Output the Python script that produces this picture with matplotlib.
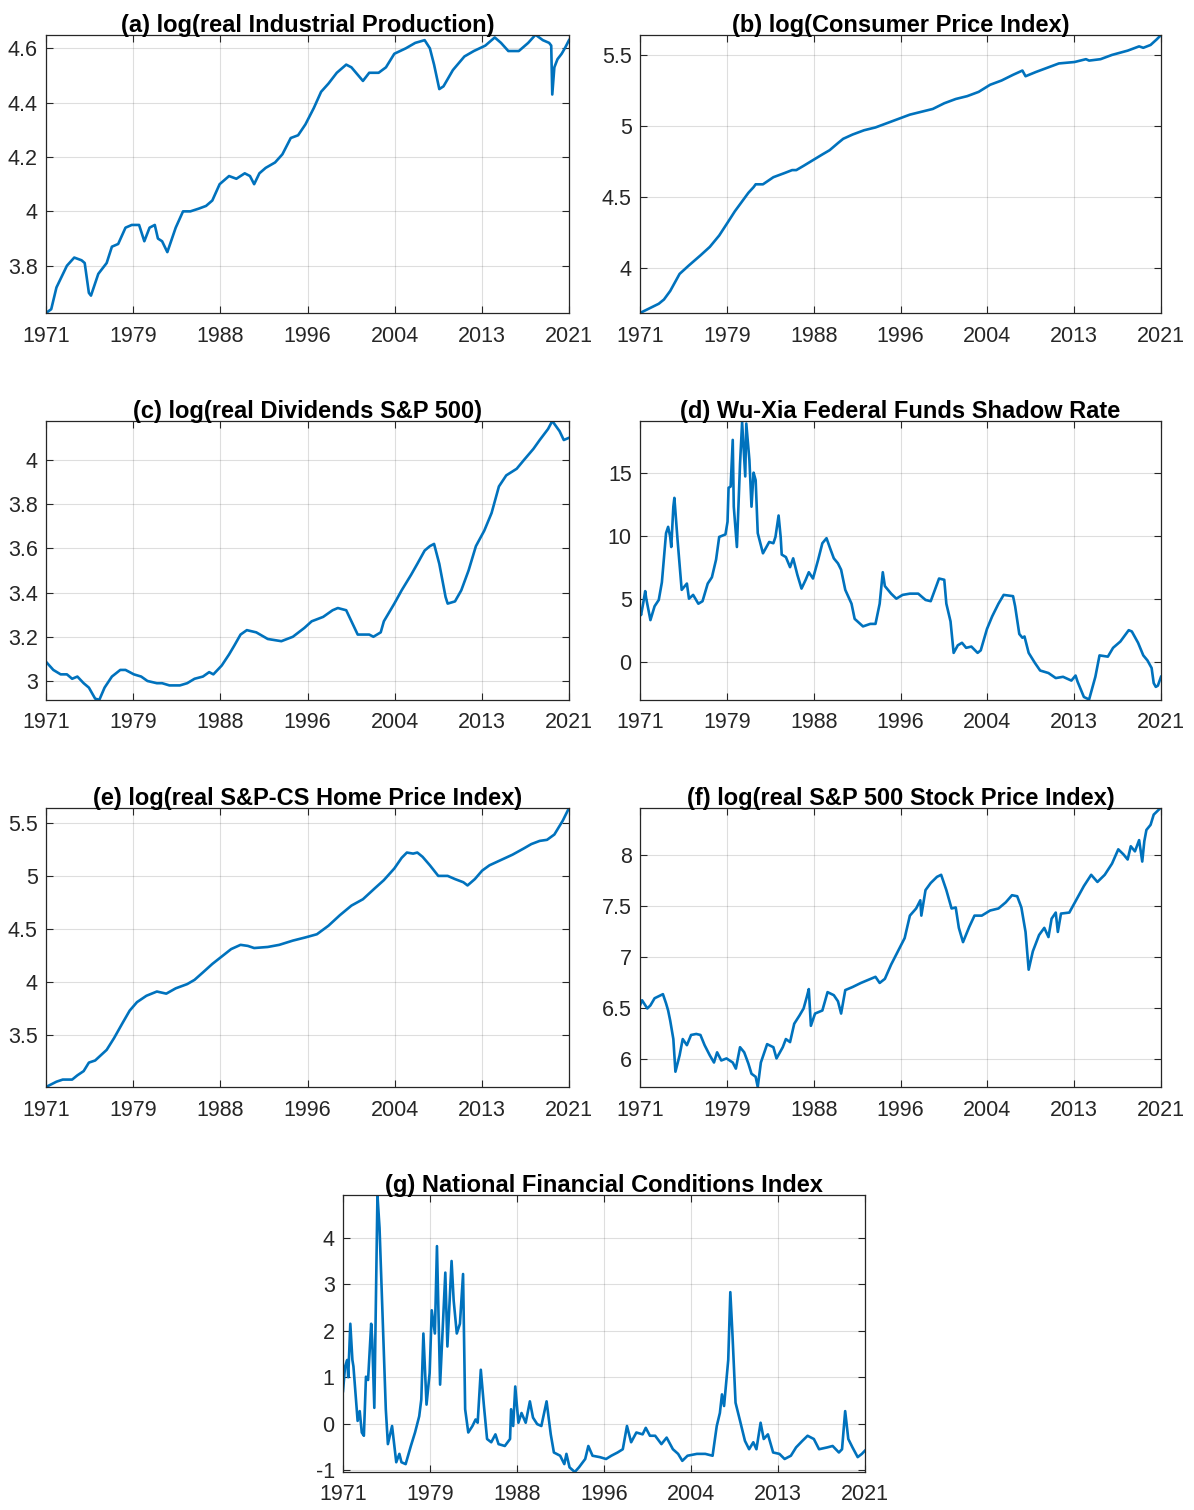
import numpy as np
import matplotlib
matplotlib.use("Agg")
import matplotlib.pyplot as plt
from matplotlib.ticker import FuncFormatter

plt.rcParams['font.family'] = ['Liberation Sans', 'DejaVu Sans']

# x axis: years as they sit on the MATLAB axis (ticks evenly spaced)
tick_labels = ['1971', '1979', '1988', '1996', '2004', '2013', '2021']

# (a) log(real Industrial Production)
ip_year = [1971.0, 1971.5, 1972.0, 1973.0, 1973.7, 1974.4, 1974.7, 1975.1, 1975.3, 1976.0,
           1976.8, 1977.3, 1977.9, 1978.6, 1979.2, 1979.9, 1980.4, 1980.9, 1981.4, 1981.7,
           1982.1, 1982.6, 1983.4, 1984.1, 1984.8, 1985.6, 1986.3, 1986.9, 1987.6, 1988.5,
           1989.2, 1990.0, 1990.5, 1990.9, 1991.4, 1992.0, 1992.9, 1993.6, 1994.4, 1995.1,
           1995.8, 1996.6, 1997.3, 1998.0, 1998.8, 1999.7, 2000.2, 2001.3, 2001.9, 2002.8,
           2003.5, 2004.3, 2005.4, 2006.3, 2007.2, 2007.7, 2008.1, 2008.6, 2009.0, 2009.9,
           2011.0, 2011.9, 2013.0, 2013.9, 2014.5, 2015.2, 2016.2, 2017.1, 2017.8, 2018.5,
           2019.1, 2019.3, 2019.4, 2019.6, 2019.9, 2020.3, 2020.6, 2021.0]
ip_val = [3.626, 3.64, 3.72, 3.80, 3.83, 3.82, 3.81, 3.70, 3.69, 3.77,
          3.81, 3.87, 3.88, 3.94, 3.95, 3.95, 3.89, 3.94, 3.95, 3.90,
          3.89, 3.85, 3.94, 4.00, 4.00, 4.01, 4.02, 4.04, 4.10, 4.13,
          4.12, 4.14, 4.13, 4.10, 4.14, 4.16, 4.18, 4.21, 4.27, 4.28,
          4.32, 4.38, 4.44, 4.47, 4.51, 4.54, 4.53, 4.48, 4.51, 4.51,
          4.53, 4.58, 4.60, 4.62, 4.63, 4.60, 4.54, 4.45, 4.46, 4.52,
          4.57, 4.59, 4.61, 4.64, 4.62, 4.59, 4.59, 4.62, 4.65, 4.63,
          4.62, 4.61, 4.43, 4.53, 4.56, 4.58, 4.60, 4.63]

# (b) log(Consumer Price Index)
cpi_year = [1971.0, 1972.8, 1973.3, 1973.9, 1974.8, 1975.7, 1976.8, 1977.7, 1978.6, 1979.4,
            1980.1, 1980.8, 1981.4, 1981.9, 1982.1, 1982.8, 1983.8, 1984.9, 1985.6, 1986.0,
            1986.7, 1987.6, 1988.5, 1989.2, 1990.0, 1990.5, 1991.4, 1992.5, 1993.6, 1994.7,
            1995.8, 1996.9, 1998.0, 1999.1, 2000.2, 2001.3, 2002.4, 2003.5, 2004.6, 2005.7,
            2006.8, 2007.7, 2008.0, 2009.0, 2010.1, 2011.2, 2012.7, 2013.8, 2014.1, 2015.2,
            2016.3, 2017.8, 2018.9, 2019.3, 2020.0, 2020.6, 2021.0]
cpi_val = [3.685, 3.75, 3.78, 3.84, 3.96, 4.02, 4.09, 4.15, 4.23, 4.32,
           4.40, 4.47, 4.53, 4.57, 4.59, 4.59, 4.64, 4.67, 4.69, 4.69,
           4.72, 4.76, 4.80, 4.83, 4.88, 4.91, 4.94, 4.97, 4.99, 5.02,
           5.05, 5.08, 5.10, 5.12, 5.16, 5.19, 5.21, 5.24, 5.29, 5.32,
           5.36, 5.39, 5.35, 5.38, 5.41, 5.44, 5.45, 5.47, 5.46, 5.47,
           5.50, 5.53, 5.56, 5.55, 5.57, 5.61, 5.64]

# (c) log(real Dividends S&P 500)
div_year = [1971.0, 1971.7, 1972.4, 1973.0, 1973.5, 1974.0, 1974.6, 1975.1, 1975.7, 1976.1,
            1976.6, 1977.3, 1978.1, 1978.6, 1979.4, 1980.1, 1980.7, 1981.6, 1982.1, 1982.8,
            1983.8, 1984.5, 1985.2, 1986.0, 1986.6, 1987.0, 1987.8, 1988.5, 1989.0, 1989.6,
            1990.2, 1991.1, 1992.2, 1993.5, 1994.6, 1995.7, 1996.4, 1997.5, 1998.4, 1998.9,
            1999.7, 2000.2, 2000.8, 2001.9, 2002.3, 2003.0, 2003.3, 2004.3, 2005.0, 2005.9,
            2006.5, 2007.2, 2007.7, 2008.1, 2008.6, 2009.2, 2009.4, 2010.1, 2010.7, 2011.4,
            2012.1, 2012.9, 2013.6, 2014.3, 2015.0, 2016.0, 2016.7, 2017.6, 2018.2, 2019.0,
            2019.4, 2020.1, 2020.5, 2021.0]
div_val = [3.087, 3.05, 3.03, 3.03, 3.01, 3.02, 2.99, 2.97, 2.92, 2.915,
           2.97, 3.02, 3.05, 3.05, 3.03, 3.02, 3.00, 2.99, 2.99, 2.98,
           2.98, 2.99, 3.01, 3.02, 3.04, 3.03, 3.07, 3.12, 3.16, 3.21,
           3.23, 3.22, 3.19, 3.18, 3.20, 3.24, 3.27, 3.29, 3.32, 3.33,
           3.32, 3.27, 3.21, 3.21, 3.20, 3.22, 3.27, 3.35, 3.41, 3.48,
           3.53, 3.59, 3.61, 3.62, 3.53, 3.38, 3.35, 3.36, 3.41, 3.50,
           3.61, 3.68, 3.76, 3.88, 3.93, 3.96, 4.00, 4.05, 4.09, 4.14,
           4.176, 4.13, 4.09, 4.10]

# (d) Wu-Xia Federal Funds Shadow Rate
ffr_year = [1971.0, 1971.1, 1971.3, 1971.5, 1971.6, 1972.0, 1972.4, 1972.8, 1973.1, 1973.5,
            1973.7, 1973.9, 1974.0, 1974.2, 1974.3, 1974.6, 1975.0, 1975.3, 1975.5, 1975.7,
            1976.1, 1976.6, 1977.0, 1977.5, 1977.9, 1978.3, 1978.6, 1979.2, 1979.4, 1979.5,
            1979.7, 1979.9, 1980.0, 1980.3, 1980.6, 1980.8, 1981.1, 1981.2, 1981.5, 1981.7,
            1981.9, 1982.1, 1982.3, 1982.8, 1983.4, 1983.8, 1984.0, 1984.3, 1984.5, 1984.6,
            1985.0, 1985.4, 1985.7, 1986.1, 1986.5, 1986.9, 1987.2, 1987.6, 1988.1, 1988.5,
            1988.9, 1989.2, 1989.6, 1990.0, 1990.3, 1990.7, 1991.3, 1991.6, 1992.4, 1993.1,
            1993.6, 1994.0, 1994.3, 1994.5, 1995.1, 1995.6, 1996.2, 1996.9, 1997.7, 1998.4,
            1998.9, 1999.3, 1999.7, 2000.2, 2000.4, 2000.8, 2001.1, 2001.5, 2001.9, 2002.3,
            2002.8, 2003.4, 2003.7, 2004.3, 2004.8, 2005.4, 2005.9, 2006.8, 2007.0, 2007.4,
            2007.7, 2007.9, 2008.3, 2008.9, 2009.4, 2010.2, 2010.9, 2011.6, 2012.4, 2012.8,
            2013.0, 2013.6, 2014.1, 2014.7, 2015.1, 2015.9, 2016.4, 2017.1, 2017.9, 2018.2,
            2018.8, 2019.3, 2019.7, 2020.1, 2020.3, 2020.5, 2020.7, 2021.0]
ffr_val = [4.1, 3.7, 4.6, 5.6, 5.0, 3.3, 4.4, 4.9, 6.3, 10.2,
           10.7, 9.9, 9.1, 12.3, 13.0, 9.7, 5.7, 6.0, 6.2, 5.0,
           5.3, 4.6, 4.8, 6.2, 6.7, 8.1, 9.9, 10.1, 11.1, 13.8,
           13.9, 17.6, 12.3, 9.1, 15.7, 19.0, 14.7, 18.9, 16.0, 12.3,
           15.0, 14.4, 10.2, 8.6, 9.5, 9.4, 9.9, 11.6, 9.9, 8.5,
           8.3, 7.5, 8.2, 6.9, 5.8, 6.5, 7.1, 6.6, 8.1, 9.4,
           9.8, 9.1, 8.2, 7.8, 7.3, 5.7, 4.6, 3.4, 2.8, 3.0,
           3.0, 4.6, 7.1, 6.0, 5.4, 5.0, 5.3, 5.4, 5.4, 4.9,
           4.8, 5.7, 6.6, 6.5, 4.6, 3.2, 0.7, 1.3, 1.5, 1.1,
           1.2, 0.7, 0.9, 2.6, 3.6, 4.6, 5.3, 5.2, 4.4, 2.2,
           1.9, 2.0, 0.7, -0.1, -0.7, -0.9, -1.3, -1.2, -1.5, -1.1,
           -1.6, -2.8, -3.0, -1.2, 0.5, 0.4, 1.1, 1.6, 2.5, 2.4,
           1.5, 0.5, 0.1, -0.5, -1.7, -2.0, -1.9, -1.2]

# (e) log(real S&P-CS Home Price Index)
hpi_year = [1971.0, 1972.0, 1972.6, 1973.5, 1974.0, 1974.6, 1975.1, 1975.7, 1976.8, 1977.5,
            1978.3, 1979.0, 1979.7, 1980.6, 1981.6, 1982.5, 1983.4, 1984.5, 1985.2, 1986.0,
            1986.9, 1987.8, 1988.7, 1989.6, 1990.3, 1990.9, 1992.2, 1993.3, 1994.6, 1995.8,
            1996.9, 1998.0, 1999.1, 2000.2, 2001.3, 2002.4, 2003.3, 2004.3, 2005.0, 2005.5,
            2006.1, 2006.5, 2007.0, 2007.7, 2008.5, 2009.4, 2010.1, 2010.9, 2011.3, 2012.0,
            2012.7, 2013.4, 2014.5, 2015.6, 2016.7, 2017.4, 2018.2, 2018.9, 2019.6, 2020.4,
            2021.0]
hpi_val = [3.01, 3.06, 3.08, 3.08, 3.12, 3.16, 3.24, 3.26, 3.36, 3.47,
           3.61, 3.73, 3.81, 3.87, 3.91, 3.89, 3.94, 3.98, 4.02, 4.09,
           4.17, 4.24, 4.31, 4.35, 4.34, 4.32, 4.33, 4.35, 4.39, 4.42,
           4.45, 4.53, 4.63, 4.72, 4.78, 4.88, 4.96, 5.07, 5.17, 5.22,
           5.21, 5.22, 5.18, 5.10, 5.00, 5.00, 4.97, 4.94, 4.91, 4.97,
           5.05, 5.10, 5.15, 5.20, 5.26, 5.30, 5.33, 5.34, 5.39, 5.52,
           5.64]

# (f) log(real S&P 500 Stock Price Index)
sp_year = [1971.0, 1971.2, 1971.7, 1972.0, 1972.4, 1973.0, 1973.2, 1973.5, 1973.7, 1973.9,
           1974.2, 1974.4, 1974.8, 1975.1, 1975.5, 1975.9, 1976.4, 1976.8, 1977.2, 1977.7,
           1978.1, 1978.4, 1978.8, 1979.3, 1979.9, 1980.2, 1980.6, 1981.0, 1981.4, 1981.7,
           1982.1, 1982.3, 1982.6, 1983.2, 1983.8, 1984.1, 1984.7, 1985.0, 1985.4, 1985.8,
           1986.3, 1986.7, 1987.0, 1987.2, 1987.4, 1987.8, 1988.5, 1989.0, 1989.6, 1990.0,
           1990.3, 1990.7, 1991.4, 1992.2, 1992.9, 1993.6, 1994.0, 1994.5, 1995.1, 1995.8,
           1996.4, 1996.9, 1997.5, 1997.9, 1998.0, 1998.4, 1998.9, 1999.5, 1999.9, 2000.4,
           2000.9, 2001.3, 2001.6, 2002.0, 2002.6, 2003.1, 2003.8, 2004.6, 2005.4, 2006.1,
           2006.7, 2007.2, 2007.6, 2008.0, 2008.3, 2008.7, 2009.3, 2009.8, 2010.2, 2010.5,
           2010.9, 2011.1, 2011.4, 2012.2, 2012.9, 2013.6, 2014.3, 2014.9, 2015.6, 2016.3,
           2016.9, 2017.4, 2017.8, 2018.1, 2018.5, 2018.9, 2019.2, 2019.4, 2019.6, 2020.0,
           2020.3, 2021.0]
sp_val = [6.53, 6.58, 6.50, 6.53, 6.60, 6.63, 6.64, 6.55, 6.48, 6.38,
          6.20, 5.88, 6.04, 6.20, 6.14, 6.24, 6.25, 6.24, 6.14, 6.04,
          5.97, 6.07, 5.99, 6.01, 5.97, 5.91, 6.12, 6.07, 5.96, 5.86,
          5.83, 5.73, 5.97, 6.15, 6.12, 6.01, 6.12, 6.20, 6.17, 6.35,
          6.43, 6.50, 6.61, 6.69, 6.33, 6.45, 6.48, 6.66, 6.63, 6.57,
          6.45, 6.68, 6.71, 6.75, 6.78, 6.81, 6.75, 6.79, 6.93, 7.07,
          7.19, 7.41, 7.48, 7.56, 7.41, 7.66, 7.73, 7.79, 7.81, 7.66,
          7.48, 7.49, 7.29, 7.15, 7.30, 7.41, 7.41, 7.46, 7.48, 7.54,
          7.61, 7.60, 7.49, 7.25, 6.88, 7.06, 7.22, 7.29, 7.20, 7.38,
          7.44, 7.25, 7.43, 7.44, 7.57, 7.70, 7.81, 7.74, 7.81, 7.92,
          8.06, 8.01, 7.96, 8.09, 8.04, 8.15, 7.94, 8.14, 8.25, 8.30,
          8.40, 8.47]

# (g) National Financial Conditions Index
nfci_year = [1971.0, 1971.2, 1971.4, 1971.5, 1971.7, 1971.9, 1972.0, 1972.2, 1972.4, 1972.6,
             1972.8, 1973.0, 1973.2, 1973.4, 1973.7, 1973.8, 1974.0, 1974.3, 1974.5, 1974.8,
             1975.1, 1975.3, 1975.7, 1976.1, 1976.4, 1976.6, 1977.0, 1977.5, 1977.9, 1978.3,
             1978.5, 1978.7, 1979.0, 1979.3, 1979.5, 1979.8, 1980.0, 1980.3, 1980.8, 1981.0,
             1981.4, 1981.6, 1981.9, 1982.2, 1982.5, 1982.7, 1983.0, 1983.4, 1983.7, 1983.9,
             1984.2, 1984.5, 1984.8, 1985.2, 1985.6, 1985.9, 1986.5, 1987.0, 1987.1, 1987.3,
             1987.5, 1987.8, 1988.1, 1988.5, 1988.9, 1989.2, 1989.6, 1990.0, 1990.5, 1990.9,
             1991.2, 1991.8, 1992.2, 1992.4, 1992.7, 1993.2, 1993.6, 1994.2, 1994.5, 1994.9,
             1995.6, 1996.2, 1996.7, 1997.3, 1997.8, 1998.2, 1998.6, 1999.1, 1999.7, 2000.0,
             2000.4, 2000.9, 2001.5, 2002.0, 2002.6, 2003.1, 2003.5, 2004.0, 2004.9, 2005.7,
             2006.4, 2006.8, 2007.1, 2007.3, 2007.5, 2007.7, 2007.9, 2008.1, 2008.3, 2008.6,
             2009.0, 2009.5, 2009.9, 2010.3, 2010.6, 2011.0, 2011.3, 2011.7, 2012.2, 2012.8,
             2013.3, 2013.9, 2014.4, 2015.0, 2015.5, 2016.1, 2016.6, 2017.4, 2017.9, 2018.5,
             2018.8, 2019.1, 2019.4, 2019.8, 2020.3, 2020.7, 2021.0]
nfci_val = [0.70, 1.23, 1.37, 1.00, 2.15, 1.37, 1.23, 0.66, 0.06, 0.27,
            -0.19, -0.26, 1.01, 0.94, 2.15, 1.80, 0.34, 4.92, 4.21, 2.29,
            0.31, -0.44, -0.05, -0.83, -0.65, -0.83, -0.87, -0.48, -0.19, 0.16,
            0.52, 1.94, 0.41, 1.09, 2.44, 1.94, 3.82, 0.84, 3.25, 1.66,
            3.50, 2.65, 1.94, 2.15, 3.22, 0.31, -0.19, -0.05, 0.09, 0.02,
            1.16, 0.38, -0.33, -0.40, -0.23, -0.44, -0.48, -0.33, 0.31, -0.05,
            0.80, 0.02, 0.23, 0.02, 0.48, 0.13, -0.01, -0.05, 0.48, -0.23,
            -0.62, -0.69, -0.87, -0.65, -0.94, -1.04, -0.94, -0.76, -0.48, -0.69,
            -0.72, -0.76, -0.69, -0.62, -0.55, -0.05, -0.40, -0.19, -0.23, -0.09,
            -0.26, -0.26, -0.44, -0.30, -0.55, -0.65, -0.80, -0.69, -0.65, -0.65,
            -0.69, -0.05, 0.23, 0.63, 0.38, 0.87, 1.37, 2.83, 1.94, 0.45,
            0.09, -0.37, -0.55, -0.40, -0.55, 0.02, -0.33, -0.23, -0.62, -0.65,
            -0.76, -0.69, -0.51, -0.37, -0.26, -0.33, -0.55, -0.51, -0.48, -0.62,
            -0.55, 0.27, -0.33, -0.51, -0.72, -0.65, -0.58]

panels = [
    ('(a) log(real Industrial Production)', ip_year, ip_val, (3.626, 4.649), [3.8, 4.0, 4.2, 4.4, 4.6]),
    ('(b) log(Consumer Price Index)', cpi_year, cpi_val, (3.685, 5.64), [4.0, 4.5, 5.0, 5.5]),
    ('(c) log(real Dividends S&P 500)', div_year, div_val, (2.914, 4.176), [3.0, 3.2, 3.4, 3.6, 3.8, 4.0]),
    ('(d) Wu-Xia Federal Funds Shadow Rate', ffr_year, ffr_val, (-3.04, 19.1), [0, 5, 10, 15]),
    ('(e) log(real S&P-CS Home Price Index)', hpi_year, hpi_val, (3.01, 5.64), [3.5, 4.0, 4.5, 5.0, 5.5]),
    ('(f) log(real S&P 500 Stock Price Index)', sp_year, sp_val, (5.73, 8.465), [6.0, 6.5, 7.0, 7.5, 8.0]),
    ('(g) National Financial Conditions Index', nfci_year, nfci_val, (-1.04, 4.92), [-1, 0, 1, 2, 3, 4]),
]

# axes boxes in pixels: left, top, right, bottom
boxes = [(46, 35, 569, 313), (640, 35, 1161, 313),
         (46, 421, 569, 700), (640, 421, 1161, 700),
         (46, 808, 569, 1087), (640, 808, 1161, 1087),
         (343, 1195, 865, 1472)]

W, H = 1194, 1510
fig = plt.figure(figsize=(W / 100, H / 100), dpi=100)

blue = '#0072BD'
dark = '#262626'

for (title, xs, ys, ylim, yt), (l, t, r, b) in zip(panels, boxes):
    ax = fig.add_axes([l / W, 1 - b / H, (r - l) / W, (b - t) / H])
    ax.plot(xs, ys, color=blue, lw=1.9)
    ax.set_xlim(1971, 2021)
    ax.set_ylim(*ylim)
    ax.set_xticks(np.linspace(1971, 2021, 7))
    ax.set_xticklabels(tick_labels)
    ax.set_yticks(yt)
    ax.yaxis.set_major_formatter(FuncFormatter(lambda v, p: '%g' % v))
    ax.grid(True, color='#262626', alpha=0.15, lw=0.8)
    ax.tick_params(direction='in', length=5, width=0.8, colors=dark, labelsize=15.5,
                   top=True, right=True)
    ax.tick_params(axis='x', pad=9)
    ax.tick_params(axis='y', pad=6)
    for s in ax.spines.values():
        s.set_color(dark)
        s.set_linewidth(0.9)
    ax.set_title(title, fontsize=17, fontweight='bold', pad=2)

fig.savefig('out.png', dpi=100)
